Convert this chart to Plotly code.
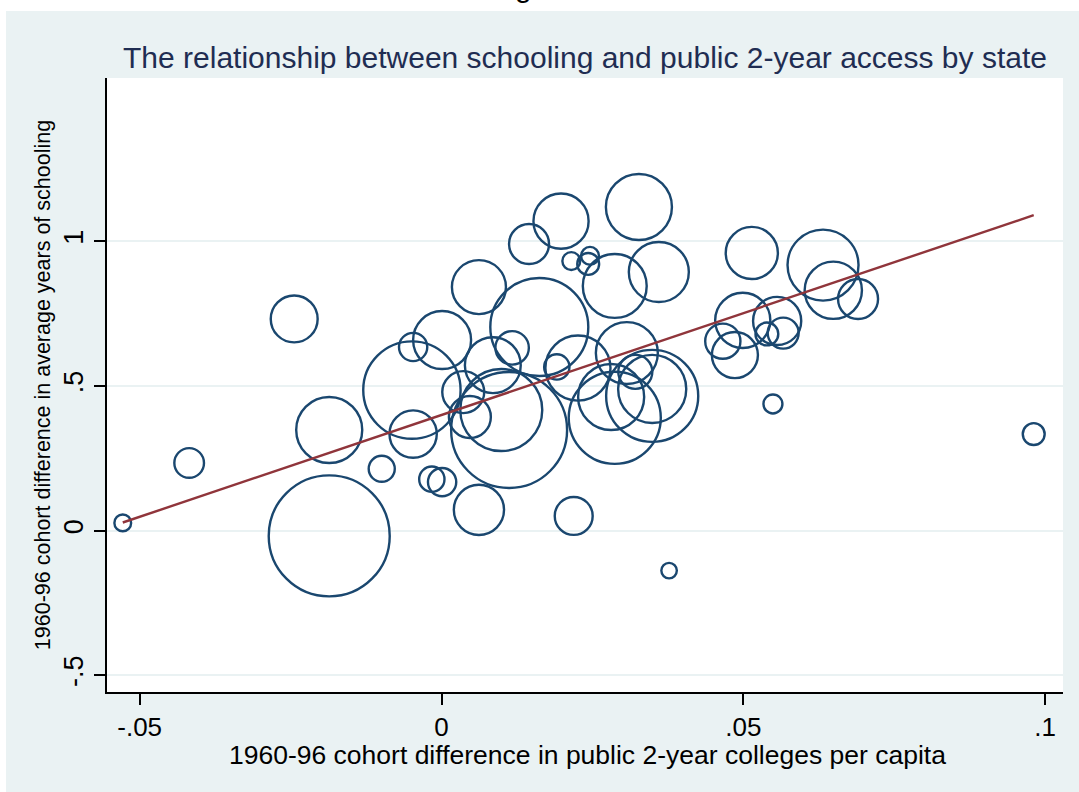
import plotly.graph_objects as go

# Data: one bubble per state (x, y, relative population weight)
x_diff_colleges = [
    -0.0528, -0.0418, -0.0244, -0.0186, -0.0186, -0.0099, -0.0047, -0.0047, -0.0049, 0.0001,
    -0.0016, 0.0001, 0.0062, 0.0062, 0.0145, 0.0198, 0.0327, 0.0215, 0.0246, 0.0243,
    0.0287, 0.0360, 0.0162, 0.0085, 0.0117, 0.0036, 0.0047, 0.0099, 0.0112, 0.0191,
    0.0226, 0.0307, 0.0321, 0.0281, 0.0287, 0.0349, 0.0349, 0.0514, 0.0632, 0.0649,
    0.0690, 0.0499, 0.0466, 0.0486, 0.0556, 0.0539, 0.0566, 0.0549, 0.0219, 0.0377,
    0.0981,
]
y_diff_schooling = [
    0.027, 0.234, 0.732, 0.348, -0.018, 0.214, 0.635, 0.334, 0.486, 0.659,
    0.178, 0.168, 0.072, 0.842, 0.991, 1.070, 1.119, 0.932, 0.950, 0.922,
    0.846, 0.894, 0.704, 0.572, 0.632, 0.479, 0.393, 0.417, 0.348, 0.566,
    0.562, 0.614, 0.549, 0.462, 0.390, 0.490, 0.466, 0.960, 0.918, 0.831,
    0.801, 0.727, 0.655, 0.607, 0.725, 0.680, 0.683, 0.438, 0.051, -0.138,
    0.334,
]
state_weight = [
    0.7, 2.2, 5.5, 10.9, 36.6, 1.7, 2.0, 5.6, 23.7, 8.4,
    1.6, 2.0, 6.3, 7.3, 4.0, 7.6, 10.9, 0.8, 0.8, 1.2,
    10.2, 9.0, 24.0, 7.8, 2.8, 4.4, 4.4, 16.8, 33.6, 1.6,
    10.6, 9.6, 2.9, 10.9, 21.2, 11.6, 21.2, 6.8, 12.6, 8.2,
    4.0, 7.6, 3.1, 5.3, 5.8, 1.3, 2.4, 0.9, 3.6, 0.6,
    1.2,
]
# Weighted linear fit as drawn in the chart
fit_intercept = 0.40
fit_slope = 7.04

x_ticks = [-0.05, 0, 0.05, 0.1]
x_tick_labels = ["-.05", "0", ".05", ".1"]
y_ticks = [-0.5, 0, 0.5, 1]
y_tick_labels = ["-.5", "0", ".5", "1"]

NAVY = "#1A476F"
MAROON = "#90353B"
BG = "#EAF2F3"
FONT = "Liberation Sans, Arial, sans-serif"

W, H = 1079, 792
ML, MR, MT, MB = 107, 16, 78, 100
plot_h = H - MT - MB
plot_w = W - ML - MR

fig = go.Figure()
fig.add_trace(go.Scatter(
    x=x_diff_colleges, y=y_diff_schooling, mode="markers",
    marker=dict(size=state_weight, sizemode="area", sizeref=1 / 200.0, opacity=1,
                color="rgba(0,0,0,0)", line=dict(color=NAVY, width=2.4)),
    hoverinfo="x+y", showlegend=False,
))
x_lo, x_hi = min(x_diff_colleges), max(x_diff_colleges)
fig.add_trace(go.Scatter(
    x=[x_lo, x_hi], y=[fit_intercept + fit_slope * x_lo, fit_intercept + fit_slope * x_hi],
    mode="lines", line=dict(color=MAROON, width=2.4), showlegend=False,
))

def px_to_paper_x(px):
    return (px - ML) / plot_w

def px_to_paper_y(py):
    return (H - MB - py) / plot_h

shapes = [
    dict(type="rect", xref="paper", yref="paper", layer="below",
         x0=px_to_paper_x(-20), x1=px_to_paper_x(W + 20),
         y0=px_to_paper_y(11), y1=px_to_paper_y(-20),
         fillcolor="white", line=dict(width=0)),
    dict(type="rect", xref="paper", yref="paper", layer="below",
         x0=px_to_paper_x(-20), x1=px_to_paper_x(6),
         y0=px_to_paper_y(H + 20), y1=px_to_paper_y(-20),
         fillcolor="white", line=dict(width=0)),
]

fig.update_layout(
    width=W, height=H,
    margin=dict(l=ML, r=MR, t=MT, b=MB, pad=0),
    paper_bgcolor=BG, plot_bgcolor="white",
    font=dict(family=FONT, color="black"),
    shapes=shapes,
    title=dict(text="The relationship between schooling and public 2-year access by state",
               x=0.5, xref="paper", xanchor="center",
               y=1 - 57 / H, yref="container", yanchor="middle",
               font=dict(size=30, color="#1F2D52", family=FONT)),
    annotations=[
        dict(text="Figure 3", showarrow=False, xref="paper", yref="paper",
             x=px_to_paper_x(545), y=px_to_paper_y(-13), xanchor="center",
             yanchor="middle", font=dict(size=30, color="black", family=FONT)),
        dict(text="1960-96 cohort difference in public 2-year colleges per capita",
             showarrow=False, xref="paper", yref="paper",
             x=px_to_paper_x(587), y=px_to_paper_y(755), xanchor="center",
             yanchor="middle", font=dict(size=26.5, color="black", family=FONT)),
    ],
    xaxis=dict(range=[-0.05541, 0.10295], tickvals=x_ticks, ticktext=x_tick_labels,
               showgrid=False, zeroline=False, showline=True, linecolor="black", linewidth=2,
               ticks="outside", ticklen=11, tickwidth=1.5, tickcolor="black",
               tickfont=dict(size=26, color="black")),
    yaxis=dict(range=[-0.5576, 1.5648], tickvals=y_ticks, ticktext=y_tick_labels,
               tickangle=-90,
               showgrid=True, gridcolor=BG, gridwidth=2, zeroline=False,
               showline=True, linecolor="black", linewidth=2,
               ticks="outside", ticklen=11, tickwidth=1.5, tickcolor="black",
               tickfont=dict(size=27, color="black"),
               title=dict(text="1960-96 cohort difference in average years of schooling",
                          font=dict(size=21.5, color="black"), standoff=3)),
)

fig.write_html("out.html")
